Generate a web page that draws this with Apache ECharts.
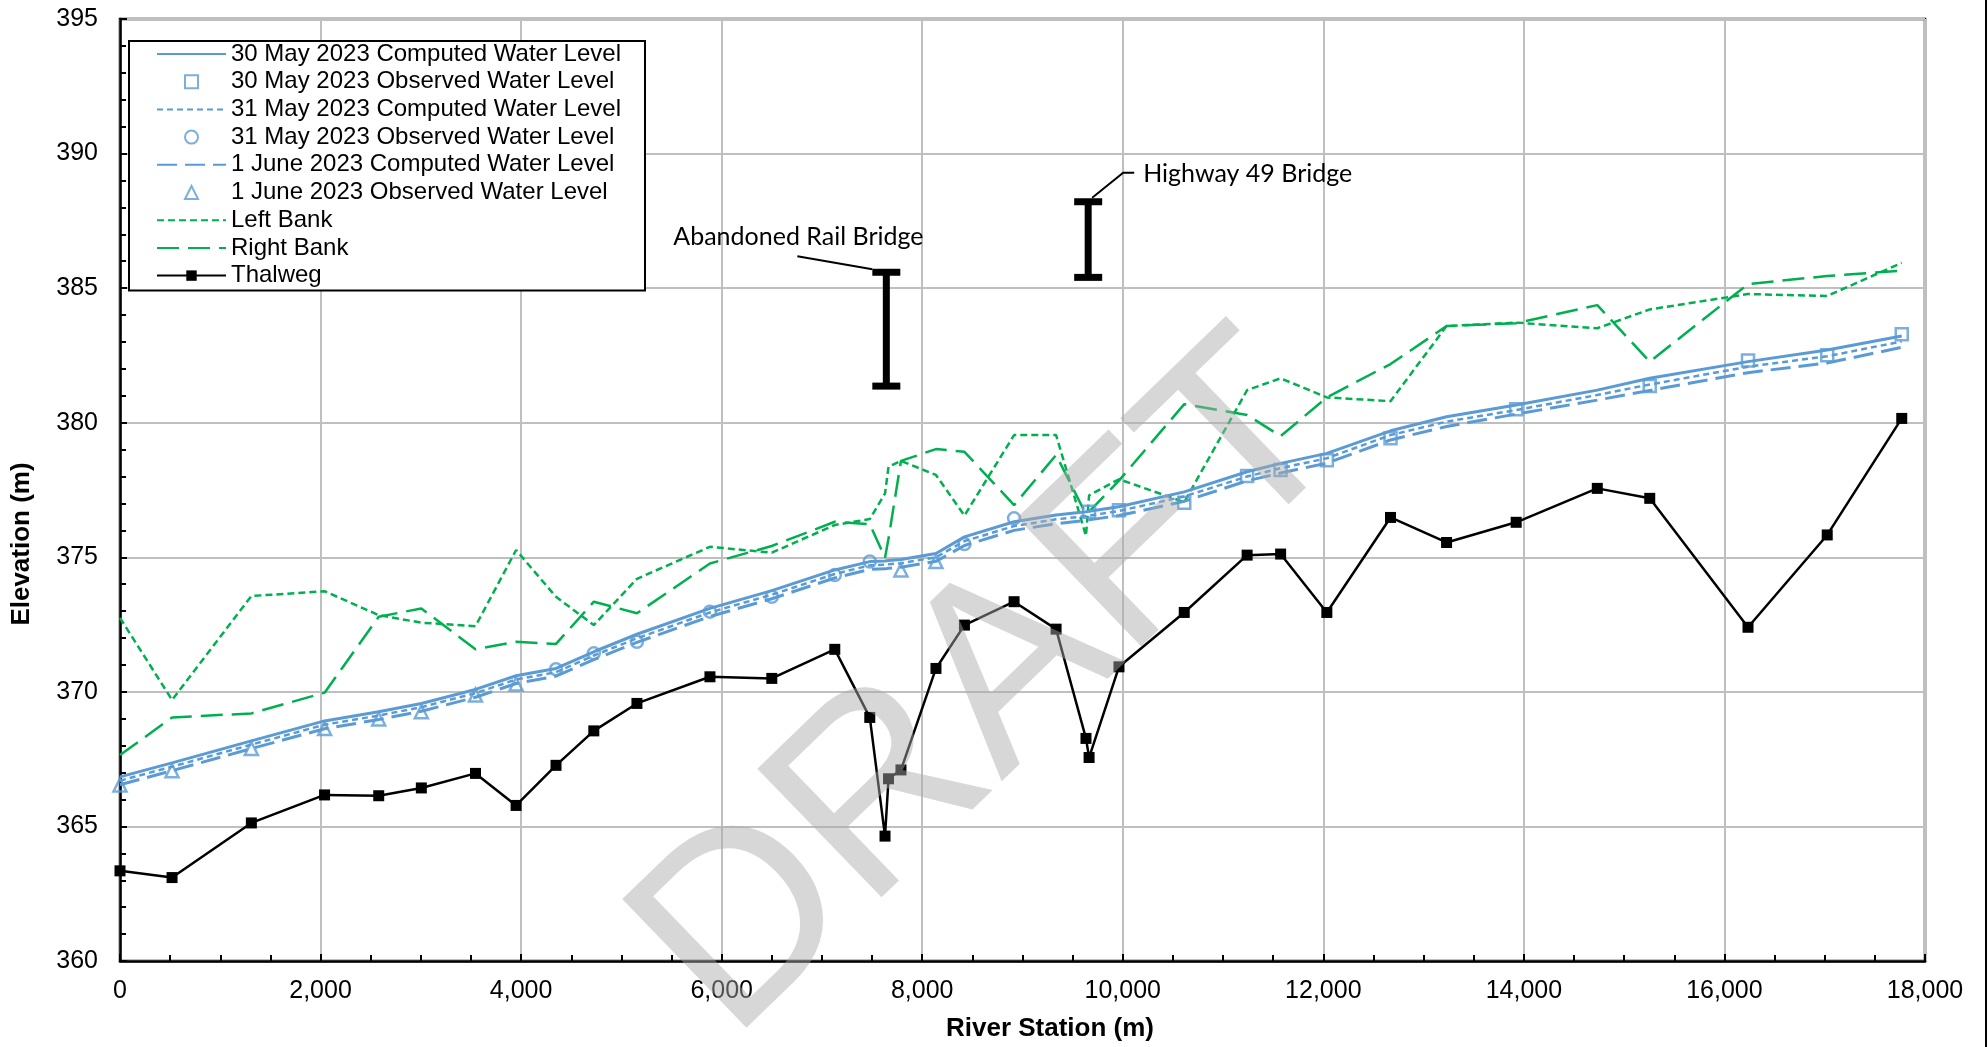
<!DOCTYPE html>
<html>
<head>
<meta charset="utf-8">
<title>Water surface profile</title>
<script src="https://cdn.jsdelivr.net/npm/echarts@6.0.0/dist/echarts.min.js"></script>
<style>
  html, body { margin: 0; padding: 0; background: #fff; }
  #chart { width: 1988px; height: 1047px; }
</style>
</head>
<body>
<div id="chart"></div>
<script>
// river stations of the cross sections (m)
const stations = [0, 519, 1310, 2040, 2580, 3005, 3545, 3950, 4348, 4725, 5155, 5883, 6500, 7128, 7477, 7629, 7664, 7788, 8137, 8421,
  8916, 9335, 9633, 9664, 9962, 10613, 11240, 11574, 12035, 12670, 13229, 13923, 14732, 15255, 16235, 17025, 17768];

// computed water levels (m)
const wl30May = [366.84, 367.36, 368.18, 368.92, 369.26, 369.57, 370.09, 370.60, 370.87, 371.49, 372.14, 373.10, 373.76, 374.53, 374.84, 374.86, 374.88, 374.92, 375.14, 375.76,
  376.32, 376.57, 376.69, 376.71, 376.88, 377.43, 378.18, 378.49, 378.86, 379.70, 380.22, 380.66, 381.21, 381.65, 382.27, 382.70, 383.22];
const wl31May = [366.70, 367.22, 368.04, 368.78, 369.12, 369.43, 369.95, 370.46, 370.73, 371.35, 371.99, 372.95, 373.61, 374.38, 374.70, 374.72, 374.74, 374.78, 375.00, 375.60,
  376.16, 376.41, 376.53, 376.55, 376.72, 377.26, 378.00, 378.31, 378.68, 379.54, 380.04, 380.47, 381.03, 381.42, 382.08, 382.47, 383.02];
const wl1Jun = [366.55, 367.07, 367.89, 368.63, 368.97, 369.28, 369.80, 370.31, 370.58, 371.20, 371.84, 372.80, 373.46, 374.23, 374.55, 374.57, 374.59, 374.63, 374.85, 375.44,
  376.00, 376.25, 376.37, 376.39, 376.55, 377.08, 377.84, 378.13, 378.50, 379.36, 379.86, 380.32, 380.84, 381.20, 381.86, 382.22, 382.80];

// banks and thalweg (m)
const leftBank = [372.75, 369.70, 373.56, 373.74, 372.85, 372.57, 372.44, 375.27, 373.53, 372.48, 374.20, 375.39, 375.17, 376.20, 376.42, 377.37, 378.36, 378.58, 378.06, 376.55,
  379.54, 379.54, 375.80, 377.30, 377.90, 377.05, 381.21, 381.65, 380.94, 380.80, 383.59, 383.72, 383.51, 384.21, 384.78, 384.71, 385.94];
const rightBank = [367.65, 369.05, 369.20, 369.97, 372.79, 373.10, 371.58, 371.86, 371.78, 373.35, 372.92, 374.77, 375.42, 376.32, 376.23, 374.98, 375.70, 378.58, 379.02, 378.92,
  376.94, 378.80, 376.60, 376.70, 377.85, 380.69, 380.29, 379.50, 380.94, 382.18, 383.59, 383.70, 384.37, 382.27, 385.15, 385.45, 385.65];
const thalweg = [363.35, 363.10, 365.13, 366.17, 366.14, 366.43, 366.97, 365.78, 367.27, 368.55, 369.57, 370.56, 370.50, 371.58, 369.05, 364.64, 366.77, 367.10, 370.87, 372.48,
  373.35, 372.33, 368.27, 367.56, 370.93, 372.95, 375.08, 375.12, 372.95, 376.48, 375.55, 376.30, 377.56, 377.19, 372.40, 375.83, 380.16];

// observed water levels [station, elevation]
const obs30May = [[9664, 376.69], [9962, 376.75], [10613, 377.03], [11240, 378.02], [11574, 378.24], [12035, 378.61],
  [12670, 379.42], [13923, 380.50], [15255, 381.36], [16235, 382.31], [17025, 382.51], [17768, 383.29]];
const obs31May = [[4348, 370.84], [4725, 371.43], [5155, 371.86], [5883, 372.98], [6500, 373.53], [7128, 374.34],
  [7477, 374.84], [8421, 375.49], [8916, 376.45]];
const obs1Jun = [[0, 366.54], [519, 367.07], [1310, 367.90], [2040, 368.64], [2580, 368.99], [3005, 369.26],
  [3545, 369.88], [3950, 370.29], [7788, 374.53], [8137, 374.84]];

// bridges: station, low chord, high chord
const bridgeNames = ['Abandoned Rail Bridge', 'Highway 49 Bridge'];
const bridgeStations = [7642, 9655];
const bridgeLow = [381.36, 385.40];
const bridgeHigh = [385.59, 388.21];

const BLUE = '#5b9bd5';
const GREEN = '#00b050';
const FONT = 'Liberation Sans, Arial, sans-serif';

// label placement for the bridge callouts, pixel offsets from the top cap
const calloutStyle = [
  { leader: [[-14, -3], [-89, -16]], text: [-213, -35] },
  { leader: [[4, -4], [35, -29], [46, -29]], text: [55, -28] }
];

const pairs = vals => stations.map((s, i) => [s, vals[i]]);

const chart = echarts.init(document.getElementById('chart'), null, { renderer: 'canvas' });

const legendNames = [
  '30 May 2023 Computed Water Level', '30 May 2023 Observed Water Level',
  '31 May 2023 Computed Water Level', '31 May 2023 Observed Water Level',
  '1 June 2023 Computed Water Level', '1 June 2023 Observed Water Level',
  'Left Bank', 'Right Bank', 'Thalweg'
];

// legend entries: plain lines hide the symbol, markers use square icons that keep their aspect
const lineOnly = { itemStyle: { opacity: 0, color: 'rgba(0,0,0,0)', borderWidth: 0 } };
const legendData = [
  { name: legendNames[0], ...lineOnly },
  { name: legendNames[1], icon: 'path://M0,0H10V10H0Z' },
  { name: legendNames[2], ...lineOnly },
  { name: legendNames[3] },
  { name: legendNames[4], ...lineOnly },
  { name: legendNames[5], icon: 'path://M5,0L10,10H0Z' },
  { name: legendNames[6], ...lineOnly },
  { name: legendNames[7], ...lineOnly },
  { name: legendNames[8] }
];

const option = {
  animation: false,
  backgroundColor: '#fff',
  grid: {
    left: 120, right: 63, top: 19, bottom: 86,
    show: true, borderColor: '#000', borderWidth: 2.5, backgroundColor: 'transparent'
  },
  legend: {
    data: legendData,
    orient: 'vertical',
    left: 129, top: 41,
    padding: [1, 24, 3, 27],
    backgroundColor: '#fff',
    borderColor: '#000',
    borderWidth: 2,
    itemWidth: 69,
    itemHeight: 13,
    itemGap: 3.7,
    symbolKeepAspect: true,
    selectedMode: false,
    textStyle: { fontFamily: FONT, fontSize: 24, lineHeight: 24, color: '#000' }
  },
  xAxis: {
    type: 'value',
    min: 0, max: 18000, interval: 2000,
    name: 'River Station (m)',
    nameLocation: 'middle',
    nameGap: 55,
    nameTextStyle: { fontFamily: FONT, fontSize: 26, fontWeight: 'bold', color: '#000', padding: [0, 0, 0, 55] },
    axisLine: { onZero: false, lineStyle: { color: '#000', width: 2.5 } },
    axisTick: { inside: true, length: 7, lineStyle: { color: '#000', width: 2 } },
    minorTick: { show: true, splitNumber: 4, length: 6, lineStyle: { color: '#000', width: 2 } },
    axisLabel: {
      fontFamily: FONT, fontSize: 25, color: '#000', margin: 18,
      formatter: v => v.toLocaleString('en-US')
    },
    splitLine: { show: true, lineStyle: { color: '#bfbfbf', width: 2 } }
  },
  yAxis: {
    type: 'value',
    min: 360, max: 395, interval: 5,
    name: 'Elevation (m)',
    nameLocation: 'middle',
    nameRotate: 90,
    nameGap: 85,
    nameTextStyle: { fontFamily: FONT, fontSize: 26, fontWeight: 'bold', color: '#000', padding: [0, 108, 0, 0] },
    axisLine: { onZero: false, lineStyle: { color: '#000', width: 2.5 } },
    axisTick: { inside: true, length: 7, lineStyle: { color: '#000', width: 2 } },
    minorTick: { show: true, splitNumber: 5, length: 6, lineStyle: { color: '#000', width: 2 } },
    axisLabel: { fontFamily: FONT, fontSize: 25, color: '#000', margin: 22 },
    splitLine: { show: true, lineStyle: { color: '#bfbfbf', width: 2 } }
  },
  series: [
    {
      name: legendNames[0], type: 'line', data: pairs(wl30May), symbol: 'none',
      lineStyle: { color: BLUE, width: 3 }, itemStyle: { color: BLUE }, z: 3
    },
    {
      name: legendNames[1], type: 'scatter', data: obs30May, symbol: 'rect', symbolSize: 12,
      itemStyle: { color: 'rgba(255,255,255,0)', borderColor: BLUE, borderWidth: 2.5 }, z: 4
    },
    {
      name: legendNames[2], type: 'line', data: pairs(wl31May), symbol: 'none',
      lineStyle: { color: BLUE, width: 2.5, type: [6, 4] }, itemStyle: { color: BLUE }, z: 3
    },
    {
      name: legendNames[3], type: 'scatter', data: obs31May, symbol: 'circle', symbolSize: 12,
      itemStyle: { color: 'rgba(255,255,255,0)', borderColor: BLUE, borderWidth: 2.5 }, z: 4
    },
    {
      name: legendNames[4], type: 'line', data: pairs(wl1Jun), symbol: 'none',
      lineStyle: { color: BLUE, width: 3, type: [20, 8] }, itemStyle: { color: BLUE }, z: 3
    },
    {
      name: legendNames[5], type: 'scatter', data: obs1Jun, symbol: 'triangle', symbolSize: 13,
      itemStyle: { color: 'rgba(255,255,255,0)', borderColor: BLUE, borderWidth: 2.5 }, z: 4
    },
    {
      name: legendNames[6], type: 'line', data: pairs(leftBank), symbol: 'none',
      lineStyle: { color: GREEN, width: 2.5, type: [7, 4] }, itemStyle: { color: GREEN }, z: 2
    },
    {
      name: legendNames[7], type: 'line', data: pairs(rightBank), symbol: 'none',
      lineStyle: { color: GREEN, width: 2.5, type: [22, 9] }, itemStyle: { color: GREEN }, z: 2
    },
    {
      name: legendNames[8], type: 'line', data: pairs(thalweg), symbol: 'rect', symbolSize: 11, showSymbol: true,
      lineStyle: { color: '#000', width: 2.5 }, itemStyle: { color: '#000' }, z: 5
    },
    {
      name: 'Bridges', type: 'custom', z: 6,
      data: bridgeStations.map((s, i) => [s, bridgeLow[i], bridgeHigh[i]]),
      renderItem: (params, api) => {
        const top = api.coord([api.value(0), api.value(2)]);
        const bot = api.coord([api.value(0), api.value(1)]);
        const c = calloutStyle[params.dataIndex];
        return {
          type: 'group',
          children: [
            { type: 'line', shape: { x1: top[0], y1: top[1], x2: bot[0], y2: bot[1] }, style: { stroke: '#000', lineWidth: 7 } },
            { type: 'rect', shape: { x: top[0] - 14, y: top[1] - 3.5, width: 28, height: 7 }, style: { fill: '#000' } },
            { type: 'rect', shape: { x: bot[0] - 14, y: bot[1] - 3.5, width: 28, height: 7 }, style: { fill: '#000' } },
            {
              type: 'polyline',
              shape: { points: c.leader.map(p => [top[0] + p[0], top[1] + p[1]]) },
              style: { stroke: '#000', lineWidth: 2, fill: null }
            },
            {
              type: 'text', x: top[0] + c.text[0], y: top[1] + c.text[1],
              style: {
                text: bridgeNames[params.dataIndex], fill: '#000',
                font: '25px Lato, "Open Sans", sans-serif', align: 'left', verticalAlign: 'middle'
              }
            }
          ]
        };
      }
    }
  ],
  graphic: [
    {
      type: 'text', x: 993, y: 690, rotation: 44 * Math.PI / 180, z: 100, silent: true,
      style: {
        text: 'DRAFT', fill: 'rgba(171,171,171,0.47)',
        font: '260px "Liberation Sans", Arial, sans-serif', align: 'center', verticalAlign: 'middle'
      }
    },
    {
      type: 'line', z: 100, silent: true,
      shape: { x1: 1986, y1: 0, x2: 1986, y2: 1047 },
      style: { stroke: '#000', lineWidth: 2 }
    }
  ]
};

chart.setOption(option);
</script>
</body>
</html>
